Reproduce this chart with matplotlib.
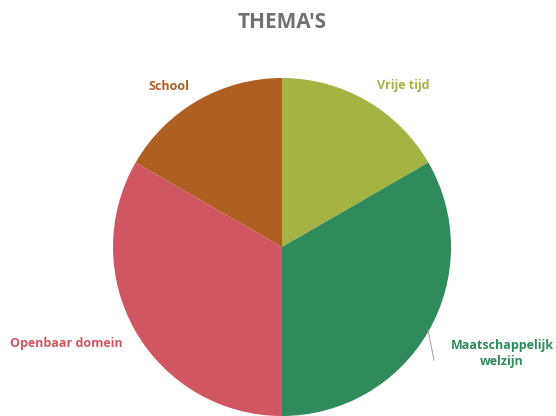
import matplotlib.pyplot as plt

# slices, clockwise from 12 o'clock
categories = ['Vrije tijd', 'Maatschappelijk\nwelzijn', 'Openbaar domein', 'School']
values = [1, 2, 2, 1]
colors = ['#A5B342', '#2F8A5C', '#D05662', '#B05F22']


def main():
    plt.rcParams['font.family'] = ['Open Sans', 'DejaVu Sans']
    fig = plt.figure(figsize=(5.56, 4.16), dpi=100)
    ax = fig.add_axes([0, 0, 1, 1])

    # work in pixel units so the layout matches the reference
    wedges, _ = ax.pie(values, colors=colors, startangle=90, counterclock=False,
                       center=(282, 169), radius=169,
                       wedgeprops={'linewidth': 0})
    ax.set_xlim(0, 556)
    ax.set_ylim(0, 416)
    ax.set_aspect('equal')
    ax.axis('off')

    ax.text(282, 394, "THEMA'S", ha='center', va='center', fontsize=15,
            fontweight='bold', color='#707070')

    # data labels
    label_pos = [(403, 330), (502, 62), (66, 73), (169, 330)]
    for name, col, (x, y) in zip(categories, colors, label_pos):
        ax.text(x, y, name, ha='center', va='center', fontsize=9,
                fontweight='bold', color=col, linespacing=1.3)

    # leader line for the green slice
    ax.plot([428, 434], [86, 56], color='#A6A6A6', linewidth=0.8)

    fig.savefig('out.png', dpi=100)
    plt.close(fig)


main()
